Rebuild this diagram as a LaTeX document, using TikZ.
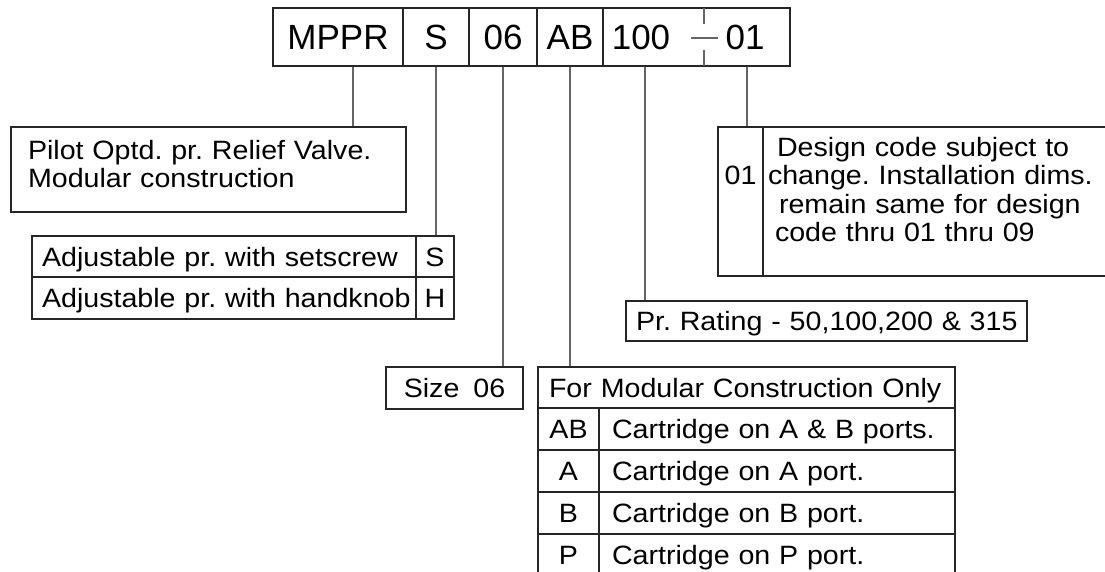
\documentclass[tikz,border=0pt]{standalone}
\usepackage{fontspec}
\setmainfont{Liberation Sans}[FakeStretch=1.08]
\newfontfamily\codefont{Liberation Sans}
\newcommand{\txtsize}{\fontsize{26.5}{28.5}\selectfont}
\newcommand{\codesize}{\codefont\fontsize{35}{40}\selectfont}
\frenchspacing

\tikzset{
  cell/.style={draw=black!85, line width=1.1pt, minimum height=58, inner sep=0, text height=25, text depth=0, font=\codesize},
  box/.style={draw=black!85, line width=1.1pt, inner sep=0, text height=19, text depth=0, font=\txtsize},
  lead/.style={draw=black!60, line width=1.1pt}
}

\begin{document}
\begin{tikzpicture}[x=1pt, y=-1pt]
		\useasboundingbox (0,0) rectangle (1105,572);

		% ordering code
		\node[cell, minimum width=130] (model) at (338,37) {MPPR};
		\node[cell, minimum width=66] (adjust) at (436,37) {S};
		\node[cell, minimum width=68] (size) at (503,37) {06};
		\node[cell, minimum width=66] (ports) at (570,37) {AB};
		\node[cell, minimum width=187] (tail) at (696.5,37) {};
		\node[font=\codesize, inner sep=0, text height=25, text depth=0] (rating) at (641,37) {100};
		\node[font=\codesize, inner sep=0, text height=25, text depth=0] (design) at (745,37) {01};
		\draw[lead] (704,8) -- (704,24) (704,50) -- (704,66);
		\draw[lead] (691,38) -- (718,38);

		% Pilot operated relief valve
		\node[box, minimum width=395, minimum height=85, text width=361, text depth=39, align=left] (modeldesc) at (208.5,169.5)
			{Pilot Optd. pr. Relief Valve.\\Modular construction};

		% adjustment
		\node[box, minimum width=384, minimum height=41, text width=364, align=left] (setscrew) at (224,256.5) {\mbox{Adjustable pr. with setscrew}};
		\node[box, minimum width=38, minimum height=41] (optS) at (435,256.5) {S};
		\node[box, minimum width=384, minimum height=42, text width=364, align=left] (handknob) at (224,298) {\mbox{Adjustable pr. with handknob}};
		\node[box, minimum width=38, minimum height=42] (optH) at (435,298) {H};

		% design code
		\node[box, minimum width=45, minimum height=149, text depth=53] (dcode) at (740.5,201.5) {01};
		\node[box, minimum width=347, minimum height=149, text width=337, text depth=109, align=left] (designdesc) at (936.5,201.5)
			{\hspace*{9pt}Design code subject to\\\mbox{change. Installation dims.}\\\hspace*{11pt}remain same for design\\\hspace*{7pt}code thru 01 thru 09};

		% pressure rating
		\node[box, minimum width=401, minimum height=40, text width=381, align=left] (ratingdesc) at (826.5,321)
			{\mbox{Pr. Rating - 50,100,200 \& 315}};

		% size
		\node[box, minimum width=137, minimum height=42] (sizedesc) at (454.5,388) {Size\hspace{14pt}06};

		% cartridge table
		\node[box, minimum width=417, minimum height=41, text width=395, align=left] (portshead) at (746.5,387.5)
			{\mbox{For Modular Construction Only}};
		\node[box, minimum width=61, minimum height=42] (codeAB) at (568.5,429) {AB};
		\node[box, minimum width=356, minimum height=42, text width=330, align=left] (descAB) at (777,429) {\mbox{Cartridge on A \& B ports.}};
		\node[box, minimum width=61, minimum height=42] (codeA) at (568.5,471) {A};
		\node[box, minimum width=356, minimum height=42, text width=330, align=left] (descA) at (777,471) {Cartridge on A port.};
		\node[box, minimum width=61, minimum height=42] (codeB) at (568.5,513) {B};
		\node[box, minimum width=356, minimum height=42, text width=330, align=left] (descB) at (777,513) {Cartridge on B port.};
		\node[box, minimum width=61, minimum height=42] (codeP) at (568.5,555) {P};
		\node[box, minimum width=356, minimum height=42, text width=330, align=left] (descP) at (777,555) {Cartridge on P port.};

		% leaders
		\draw[lead] ([xshift=15pt]model.south) -- ([xshift=15pt]model.south |- modeldesc.north);
		\draw[lead] (adjust.south) -- (adjust.south |- optS.north);
		\draw[lead] (size.south) -- (size.south |- sizedesc.north);
		\draw[lead] (ports.south) -- (ports.south |- portshead.north);
		\draw[lead] ([xshift=-51.5pt]tail.south) -- ([xshift=-51.5pt]tail.south |- ratingdesc.north);
		\draw[lead] ([xshift=50.5pt]tail.south) -- ([xshift=50.5pt]tail.south |- dcode.north);

\end{tikzpicture}
\end{document}
